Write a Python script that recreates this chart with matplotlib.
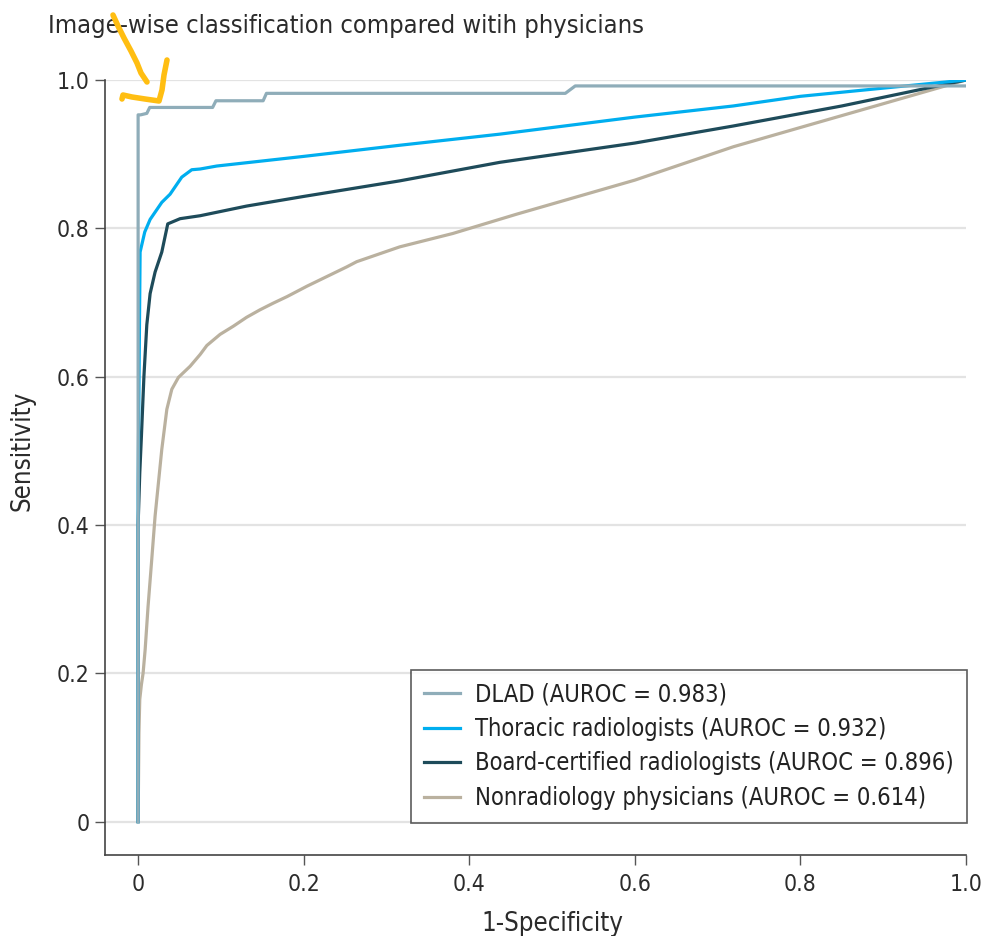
import matplotlib
matplotlib.use("Agg")
import matplotlib.pyplot as plt
from matplotlib.lines import Line2D

plt.rcParams['font.family'] = ['DejaVu Sans']
plt.rcParams['font.stretch'] = 'condensed'

title = "Image-wise classification compared witih physicians"
xlabel = "1-Specificity"
ylabel = "Sensitivity"

xticks = [0, 0.2, 0.4, 0.6, 0.8, 1.0]
xticklabels = ["0", "0.2", "0.4", "0.6", "0.8", "1.0"]
yticks = [0, 0.2, 0.4, 0.6, 0.8, 1.0]
yticklabels = ["0", "0.2", "0.4", "0.6", "0.8", "1.0"]

labels = [
    "DLAD (AUROC = 0.983)",
    "Thoracic radiologists (AUROC = 0.932)",
    "Board-certified radiologists (AUROC = 0.896)",
    "Nonradiology physicians (AUROC = 0.614)",
]
colors = ["#8FADB9", "#00AEEF", "#1E4B5A", "#BAB19F"]

# DLAD
dlad_x = [0, 0, 0.003, 0.0105, 0.014, 0.090, 0.094, 0.151, 0.155, 0.516, 0.528, 1.0]
dlad_y = [0, 0.953, 0.953, 0.955, 0.963, 0.963, 0.972, 0.972, 0.982, 0.982, 0.992, 0.992]

# Thoracic radiologists
thor_x = [0, 0, 0.0024, 0.008, 0.0145, 0.0286, 0.0386, 0.0527, 0.0648, 0.075, 0.095,
          0.2, 0.316, 0.437, 0.6, 0.719, 0.8, 0.936, 1.0]
thor_y = [0, 0.45, 0.768, 0.795, 0.812, 0.835, 0.846, 0.869, 0.879, 0.880, 0.884,
          0.897, 0.912, 0.927, 0.950, 0.965, 0.978, 0.993, 1.0]

# Board-certified radiologists
board_x = [0, 0, 0.002, 0.004, 0.007, 0.0105, 0.0145, 0.0205, 0.0286, 0.0358, 0.0507,
           0.075, 0.131, 0.2, 0.316, 0.437, 0.6, 0.719, 0.85, 1.0]
board_y = [0, 0.40, 0.47, 0.52, 0.60, 0.67, 0.712, 0.741, 0.768, 0.806, 0.813,
           0.817, 0.830, 0.843, 0.864, 0.889, 0.915, 0.938, 0.965, 1.0]

# Nonradiology physicians
nonrad_x = [0, 0.001, 0.002, 0.004, 0.006, 0.0085, 0.012, 0.0165, 0.0205, 0.0286, 0.0347,
            0.0407, 0.0487, 0.0628, 0.075, 0.083, 0.099, 0.115, 0.131, 0.147, 0.163,
            0.18, 0.204, 0.252, 0.264, 0.316, 0.380, 0.457, 0.6, 0.719, 0.8, 0.9, 1.0]
nonrad_y = [0, 0.12, 0.165, 0.185, 0.20, 0.232, 0.29, 0.354, 0.412, 0.502, 0.556,
            0.583, 0.599, 0.614, 0.630, 0.642, 0.657, 0.668, 0.680, 0.690, 0.699,
            0.708, 0.722, 0.748, 0.755, 0.775, 0.793, 0.819, 0.865, 0.910, 0.936, 0.968, 1.0]

series_x = [dlad_x, thor_x, board_x, nonrad_x]
series_y = [dlad_y, thor_y, board_y, nonrad_y]

# hand-drawn yellow annotation (figure pixel coordinates, origin top-left)
arrow_shaft_px = [(113, 15), (118, 26), (124, 38), (131, 51), (137, 63), (141, 73), (147, 82)]
arrow_head_px = [(122, 99), (123, 95), (132, 97), (145, 99), (159, 101), (162, 90), (164, 75), (167, 60)]

W, H = 988, 936
fig = plt.figure(figsize=(W / 100, H / 100), dpi=100)
ax = fig.add_axes([105 / W, 1 - 855 / H, (966 - 105) / W, (855 - 80) / H])

XMIN, XMAX = -0.04, 1.0
YMIN, YMAX = -0.045, 1.0

for gy in yticks:
    ax.axhline(gy, color="#E3E3E3", lw=1.6, zorder=0)

for i in [3, 2, 1, 0]:
    ax.plot(series_x[i], series_y[i], color=colors[i], lw=2.3, solid_joinstyle="round",
            zorder=3 + (4 - i))

ax.set_xlim(XMIN, XMAX)
ax.set_ylim(YMIN, YMAX)
ax.set_xticks(xticks)
ax.set_xticklabels(xticklabels)
ax.set_yticks(yticks)
ax.set_yticklabels(yticklabels)
ax.tick_params(axis="both", direction="out", length=7, width=1.0, color="#555555",
               labelsize=16.5, labelcolor="#2b2b2b")
ax.tick_params(axis="x", pad=6)
ax.tick_params(axis="y", pad=4)
for s in ["top", "right"]:
    ax.spines[s].set_visible(False)
for s in ["left", "bottom"]:
    ax.spines[s].set_color("#444444")
    ax.spines[s].set_linewidth(1.2)

ax.set_xlabel(xlabel, fontsize=18.5, color="#2b2b2b")
ax.set_ylabel(ylabel, fontsize=18.5, color="#2b2b2b")
ax.xaxis.set_label_coords((0.5 - XMIN) / (XMAX - XMIN), -0.072)
ax.yaxis.set_label_coords(-0.081, (0.5 - YMIN) / (YMAX - YMIN))

handles = [Line2D([0], [0], color=colors[i], lw=2.3) for i in range(4)]
leg = ax.legend(handles, labels, loc="lower right", bbox_to_anchor=(1.001, 0.0415),
                fontsize=17, frameon=True, fancybox=False, edgecolor="#333333",
                handlelength=1.55, handletextpad=0.63, borderpad=0.55, labelspacing=0.44,
                borderaxespad=0.0)
leg.get_frame().set_linewidth(1.2)
for t in leg.get_texts():
    t.set_color("#222222")

fig.text(48 / W, 1 - 26 / H, title, fontsize=18.3, color="#2b2b2b", ha="left", va="center")

def to_fig(pts):
    return [p[0] / W for p in pts], [1 - p[1] / H for p in pts]

for pts in (arrow_shaft_px, arrow_head_px):
    xs, ys = to_fig(pts)
    fig.add_artist(Line2D(xs, ys, transform=fig.transFigure, color="#FFBE12", lw=4.0,
                          solid_capstyle="round", solid_joinstyle="round", zorder=10))

fig.savefig("out.png", dpi=100)
